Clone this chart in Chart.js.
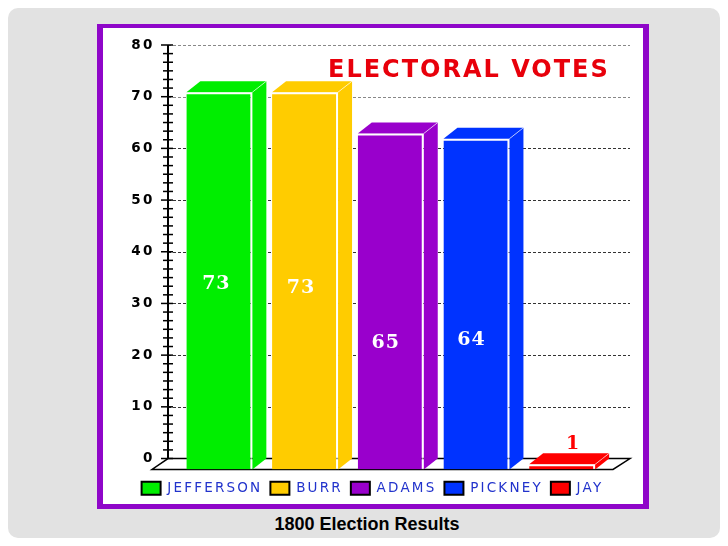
<!DOCTYPE html>
<html>
<head>
<meta charset="utf-8">
<title>1800 Election Results</title>
<script src="https://cdn.jsdelivr.net/npm/chart.js@4"></script>
<style>
    html, body { margin: 0; padding: 0; background: #fff; }
    #panel { position: absolute; left: 8px; top: 8px; width: 712px; height: 530px; background: #e2e2e2; border-radius: 10px; }
    #frame { position: absolute; left: 97px; top: 24px; width: 540px; height: 476px; background: #fff; border: solid #8f06c9; border-width: 4px 6px 5px 6px; }
    #caption { position: absolute; left: 8px; width: 718px; top: 514px; text-align: center; font: bold 18px "Liberation Sans", sans-serif; color: #000; }
    #chart { position: absolute; left: 0; top: 0; }
</style>
</head>
<body>
<div id="panel"></div>
<div id="frame"></div>
<div id="caption">1800 Election Results</div>
<canvas id="chart" width="728" height="546"></canvas>
<script>
const candidates = ['JEFFERSON', 'BURR', 'ADAMS', 'PICKNEY', 'JAY'];
const votes = [73, 73, 65, 64, 1];
const barColors = ['#00ee00', '#ffcc00', '#9900cc', '#0033ff', '#ff0000'];
const yTickValues = [0, 10, 20, 30, 40, 50, 60, 70, 80];

const DEPTH_X = 14;
const DEPTH_Y = 11;
// where each value label sits on its bar: dx in px, v in votes
const labelSpots = [
    { dx: -3, v: 35.9 }, { dx: -4, v: 35.1 }, { dx: -5, v: 24.4 }, { dx: -5, v: 25.0 }, { dx: 11, v: 5.0 }
];

function poly(ctx, pts, fill) {
    ctx.beginPath();
    pts.forEach((p, i) => i ? ctx.lineTo(p[0], p[1]) : ctx.moveTo(p[0], p[1]));
    ctx.closePath();
    ctx.fillStyle = fill;
    ctx.fill();
}

const scenery = {
    id: 'scenery',
    beforeLayout(chart) {
        chart.ctx.letterSpacing = '2.2px';
    },
    beforeDatasetsDraw(chart) {
        const ctx = chart.ctx;
        const y = chart.scales.y;
        const right = chart.chartArea.right + 25;
        const axisX = chart.chartArea.left - 8.5;
        const y0 = y.getPixelForValue(0);
        const yTop = y.getPixelForValue(80);
        const yFront = chart.chartArea.bottom;
        ctx.save();

        // dashed guide lines, the top two came out paler in the original
        ctx.setLineDash([3, 2]);
        ctx.lineWidth = 1;
        yTickValues.slice(1).forEach(v => {
            const py = Math.round(y.getPixelForValue(v)) + 0.5;
            ctx.strokeStyle = v >= 70 ? '#888' : '#333';
            ctx.beginPath();
            ctx.moveTo(axisX, py);
            ctx.lineTo(right, py);
            ctx.stroke();
        });
        ctx.setLineDash([]);

        // axis + tick marks
        ctx.strokeStyle = '#000';
        ctx.lineWidth = 2;
        ctx.beginPath();
        ctx.moveTo(axisX, yTop);
        ctx.lineTo(axisX, y0);
        ctx.stroke();
        ctx.lineWidth = 1.5;
        for (let i = 0; i <= 48; i++) {
            const py = y.getPixelForValue(i * 10 / 6);
            ctx.beginPath();
            ctx.moveTo(axisX - (i % 6 === 0 ? 7 : 5), py);
            ctx.lineTo(axisX + 5, py);
            ctx.stroke();
        }

        // floor
        ctx.beginPath();
        ctx.moveTo(axisX, y0);
        ctx.lineTo(right, y0);
        ctx.lineTo(right - 17, yFront);
        ctx.lineTo(axisX - 16, yFront);
        ctx.closePath();
        ctx.stroke();

        // sides and tops of the bars
        chart.getDatasetMeta(0).data.forEach((bar, i) => {
            const c = barColors[i];
            const l = bar.x - bar.width / 2;
            const r = bar.x + bar.width / 2;
            poly(ctx, [[r, bar.y], [r + DEPTH_X, bar.y - DEPTH_Y], [r + DEPTH_X, bar.base - DEPTH_Y], [r, bar.base]], c);
            poly(ctx, [[l, bar.y], [l + DEPTH_X, bar.y - DEPTH_Y], [r + DEPTH_X, bar.y - DEPTH_Y], [r, bar.y]], c);
            ctx.strokeStyle = 'rgba(255,255,255,0.6)';
            ctx.lineWidth = 1;
            ctx.beginPath();
            ctx.moveTo(r, bar.y);
            ctx.lineTo(r + DEPTH_X, bar.y - DEPTH_Y);
            ctx.stroke();
        });
        ctx.restore();
    },
    afterDatasetsDraw(chart) {
        const ctx = chart.ctx;
        const front = chart.scales.front;
        ctx.save();
        ctx.textAlign = 'center';
        ctx.textBaseline = 'middle';
        ctx.letterSpacing = '1px';
        ctx.font = 'bold 19px "DejaVu Serif"';
        chart.getDatasetMeta(0).data.forEach((bar, i) => {
            const spot = labelSpots[i];
            ctx.fillStyle = i === 4 ? barColors[4] : '#fff';
            ctx.fillText(String(votes[i]), bar.x + spot.dx, front.getPixelForValue(spot.v));
        });
        // the chart heading sits inside the plot, so it is placed by hand
        ctx.fillStyle = '#e8000b';
        ctx.textAlign = 'left';
        ctx.letterSpacing = '2px';
        ctx.font = 'bold 24px "DejaVu Sans"';
        ctx.fillText('ELECTORAL VOTES', 328, 71);
        ctx.restore();
    }
};

new Chart(document.getElementById('chart').getContext('2d'), {
    type: 'bar',
    data: {
        labels: candidates,
        datasets: [{
            data: votes,
            yAxisID: 'front',
            backgroundColor: barColors,
            borderColor: 'rgba(255,255,255,0.6)',
            borderWidth: { top: 2, right: 2, left: 0, bottom: 0 },
            borderSkipped: false,
            barPercentage: 0.77,
            categoryPercentage: 1
        }]
    },
    options: {
        responsive: false,
        animation: false,
        layout: { padding: { left: 20, right: 3, top: 45, bottom: 41 } },
        scales: {
            x: {
                grid: { display: false },
                border: { display: false },
                ticks: { display: false },
                afterFit(scale) { scale.height = 4; }
            },
            y: {
                position: 'left',
                min: -11 / 5.175,
                max: 80,
                grid: { display: false },
                border: { display: false },
                afterFit(scale) { scale.width = 156.5; },
                afterBuildTicks(scale) { scale.ticks = yTickValues.map(v => ({ value: v })); },
                ticks: {
                    padding: 14,
                    autoSkip: false,
                    color: '#000',
                    font: { family: '"DejaVu Sans"', size: 13.5, weight: 'bold' }
                }
            },
            // blank axis on the right, keeps the legend centred under the frame
            spare: {
                position: 'right',
                grid: { display: false },
                border: { display: false },
                ticks: { display: false },
                afterFit(scale) { scale.width = 120; }
            },
            front: { display: false, min: 0, max: 80 + 11 / 5.175 }
        },
        plugins: {
            tooltip: { enabled: false },
            legend: {
                position: 'bottom',
                onClick: null,
                labels: {
                    boxWidth: 19,
                    boxHeight: 13,
                    padding: 8,
                    color: '#2233cc',
                    font: { family: '"DejaVu Sans"', size: 13.5 },
                    generateLabels: () => candidates.map((name, i) => ({
                        text: name,
                        fillStyle: barColors[i],
                        strokeStyle: '#000',
                        lineWidth: 2,
                        fontColor: '#2233cc',
                        index: i
                    }))
                }
            }
        }
    },
    plugins: [scenery]
});
</script>
</body>
</html>
